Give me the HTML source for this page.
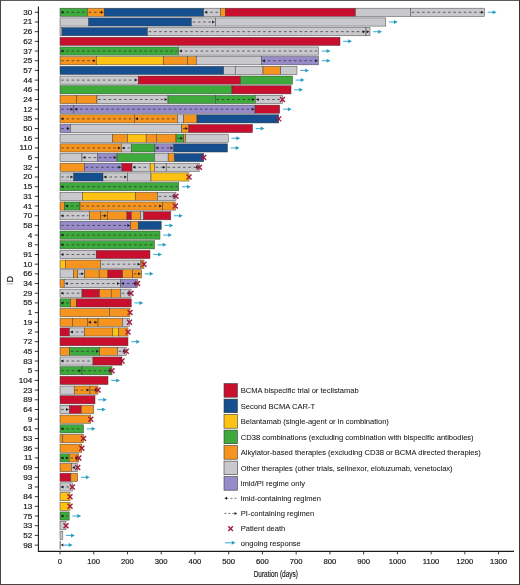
<!DOCTYPE html>
<html><head><meta charset="utf-8"><style>
html,body{margin:0;padding:0;background:#fff;}
body{width:520px;height:585px;overflow:hidden;}
svg{display:block;will-change:transform;}
text{font-family:"Liberation Sans",sans-serif;fill:#151515;stroke:#151515;stroke-width:0.18;}
.yl{font-size:8.1px;text-anchor:end;}
.xl{font-size:7.7px;text-anchor:middle;}
.lt{font-size:7.55px;stroke-width:0.05;}
.b{stroke:#3a3a3a;stroke-width:0.55;stroke-opacity:0.85;}
.lb{stroke:#3a3a3a;stroke-width:0.6;}
.d{stroke:#2a2a2a;stroke-opacity:0.75;stroke-width:0.9;stroke-dasharray:2.6 2.6;}
.h{fill:#1a1a1a;}
.x{stroke:#a3163a;stroke-width:1.35;fill:none;}
.ar{stroke:#4db4d8;stroke-width:1.15;}
.ah{fill:#2c9cc0;}
.tk{stroke:#222;stroke-width:0.9;}
.ax{stroke:#1a1a1a;stroke-width:1.1;fill:none;}
</style></head><body>
<svg width="520" height="585" viewBox="0 0 520 585">
<rect x="0" y="0" width="520" height="1" fill="#5c5c5c"/><rect x="0" y="0" width="1" height="585" fill="#454545"/><rect x="519" y="0" width="1" height="585" fill="#353535"/><rect x="0" y="584" width="520" height="1" fill="#454545"/>
<path d="M38.4,6.5 V551.4 H514" class="ax"/>
<text x="32.3" y="14.8" class="yl">30</text>
<line x1="34.8" y1="12.3" x2="38.4" y2="12.3" class="tk"/>
<text x="32.3" y="24.49" class="yl">21</text>
<line x1="34.8" y1="21.99" x2="38.4" y2="21.99" class="tk"/>
<text x="32.3" y="34.17" class="yl">26</text>
<line x1="34.8" y1="31.67" x2="38.4" y2="31.67" class="tk"/>
<text x="32.3" y="43.86" class="yl">62</text>
<line x1="34.8" y1="41.36" x2="38.4" y2="41.36" class="tk"/>
<text x="32.3" y="53.55" class="yl">37</text>
<line x1="34.8" y1="51.05" x2="38.4" y2="51.05" class="tk"/>
<text x="32.3" y="63.23" class="yl">25</text>
<line x1="34.8" y1="60.73" x2="38.4" y2="60.73" class="tk"/>
<text x="32.3" y="72.92" class="yl">57</text>
<line x1="34.8" y1="70.42" x2="38.4" y2="70.42" class="tk"/>
<text x="32.3" y="82.61" class="yl">44</text>
<line x1="34.8" y1="80.11" x2="38.4" y2="80.11" class="tk"/>
<text x="32.3" y="92.3" class="yl">46</text>
<line x1="34.8" y1="89.8" x2="38.4" y2="89.8" class="tk"/>
<text x="32.3" y="101.98" class="yl">24</text>
<line x1="34.8" y1="99.48" x2="38.4" y2="99.48" class="tk"/>
<text x="32.3" y="111.67" class="yl">12</text>
<line x1="34.8" y1="109.17" x2="38.4" y2="109.17" class="tk"/>
<text x="32.3" y="121.36" class="yl">35</text>
<line x1="34.8" y1="118.86" x2="38.4" y2="118.86" class="tk"/>
<text x="32.3" y="131.04" class="yl">50</text>
<line x1="34.8" y1="128.54" x2="38.4" y2="128.54" class="tk"/>
<text x="32.3" y="140.73" class="yl">16</text>
<line x1="34.8" y1="138.23" x2="38.4" y2="138.23" class="tk"/>
<text x="32.3" y="150.42" class="yl">110</text>
<line x1="34.8" y1="147.92" x2="38.4" y2="147.92" class="tk"/>
<text x="32.3" y="160.1" class="yl">6</text>
<line x1="34.8" y1="157.6" x2="38.4" y2="157.6" class="tk"/>
<text x="32.3" y="169.79" class="yl">32</text>
<line x1="34.8" y1="167.29" x2="38.4" y2="167.29" class="tk"/>
<text x="32.3" y="179.48" class="yl">20</text>
<line x1="34.8" y1="176.98" x2="38.4" y2="176.98" class="tk"/>
<text x="32.3" y="189.17" class="yl">15</text>
<line x1="34.8" y1="186.67" x2="38.4" y2="186.67" class="tk"/>
<text x="32.3" y="198.85" class="yl">31</text>
<line x1="34.8" y1="196.35" x2="38.4" y2="196.35" class="tk"/>
<text x="32.3" y="208.54" class="yl">41</text>
<line x1="34.8" y1="206.04" x2="38.4" y2="206.04" class="tk"/>
<text x="32.3" y="218.23" class="yl">70</text>
<line x1="34.8" y1="215.73" x2="38.4" y2="215.73" class="tk"/>
<text x="32.3" y="227.91" class="yl">58</text>
<line x1="34.8" y1="225.41" x2="38.4" y2="225.41" class="tk"/>
<text x="32.3" y="237.6" class="yl">4</text>
<line x1="34.8" y1="235.1" x2="38.4" y2="235.1" class="tk"/>
<text x="32.3" y="247.29" class="yl">8</text>
<line x1="34.8" y1="244.79" x2="38.4" y2="244.79" class="tk"/>
<text x="32.3" y="256.98" class="yl">91</text>
<line x1="34.8" y1="254.47" x2="38.4" y2="254.47" class="tk"/>
<text x="32.3" y="266.66" class="yl">10</text>
<line x1="34.8" y1="264.16" x2="38.4" y2="264.16" class="tk"/>
<text x="32.3" y="276.35" class="yl">66</text>
<line x1="34.8" y1="273.85" x2="38.4" y2="273.85" class="tk"/>
<text x="32.3" y="286.04" class="yl">34</text>
<line x1="34.8" y1="283.54" x2="38.4" y2="283.54" class="tk"/>
<text x="32.3" y="295.72" class="yl">29</text>
<line x1="34.8" y1="293.22" x2="38.4" y2="293.22" class="tk"/>
<text x="32.3" y="305.41" class="yl">55</text>
<line x1="34.8" y1="302.91" x2="38.4" y2="302.91" class="tk"/>
<text x="32.3" y="315.1" class="yl">1</text>
<line x1="34.8" y1="312.6" x2="38.4" y2="312.6" class="tk"/>
<text x="32.3" y="324.78" class="yl">19</text>
<line x1="34.8" y1="322.28" x2="38.4" y2="322.28" class="tk"/>
<text x="32.3" y="334.47" class="yl">2</text>
<line x1="34.8" y1="331.97" x2="38.4" y2="331.97" class="tk"/>
<text x="32.3" y="344.16" class="yl">72</text>
<line x1="34.8" y1="341.66" x2="38.4" y2="341.66" class="tk"/>
<text x="32.3" y="353.84" class="yl">45</text>
<line x1="34.8" y1="351.34" x2="38.4" y2="351.34" class="tk"/>
<text x="32.3" y="363.53" class="yl">83</text>
<line x1="34.8" y1="361.03" x2="38.4" y2="361.03" class="tk"/>
<text x="32.3" y="373.22" class="yl">5</text>
<line x1="34.8" y1="370.72" x2="38.4" y2="370.72" class="tk"/>
<text x="32.3" y="382.91" class="yl">104</text>
<line x1="34.8" y1="380.41" x2="38.4" y2="380.41" class="tk"/>
<text x="32.3" y="392.59" class="yl">23</text>
<line x1="34.8" y1="390.09" x2="38.4" y2="390.09" class="tk"/>
<text x="32.3" y="402.28" class="yl">89</text>
<line x1="34.8" y1="399.78" x2="38.4" y2="399.78" class="tk"/>
<text x="32.3" y="411.97" class="yl">64</text>
<line x1="34.8" y1="409.47" x2="38.4" y2="409.47" class="tk"/>
<text x="32.3" y="421.65" class="yl">9</text>
<line x1="34.8" y1="419.15" x2="38.4" y2="419.15" class="tk"/>
<text x="32.3" y="431.34" class="yl">61</text>
<line x1="34.8" y1="428.84" x2="38.4" y2="428.84" class="tk"/>
<text x="32.3" y="441.03" class="yl">53</text>
<line x1="34.8" y1="438.53" x2="38.4" y2="438.53" class="tk"/>
<text x="32.3" y="450.71" class="yl">36</text>
<line x1="34.8" y1="448.21" x2="38.4" y2="448.21" class="tk"/>
<text x="32.3" y="460.4" class="yl">11</text>
<line x1="34.8" y1="457.9" x2="38.4" y2="457.9" class="tk"/>
<text x="32.3" y="470.09" class="yl">69</text>
<line x1="34.8" y1="467.59" x2="38.4" y2="467.59" class="tk"/>
<text x="32.3" y="479.78" class="yl">93</text>
<line x1="34.8" y1="477.28" x2="38.4" y2="477.28" class="tk"/>
<text x="32.3" y="489.46" class="yl">3</text>
<line x1="34.8" y1="486.96" x2="38.4" y2="486.96" class="tk"/>
<text x="32.3" y="499.15" class="yl">84</text>
<line x1="34.8" y1="496.65" x2="38.4" y2="496.65" class="tk"/>
<text x="32.3" y="508.84" class="yl">13</text>
<line x1="34.8" y1="506.34" x2="38.4" y2="506.34" class="tk"/>
<text x="32.3" y="518.52" class="yl">75</text>
<line x1="34.8" y1="516.02" x2="38.4" y2="516.02" class="tk"/>
<text x="32.3" y="528.21" class="yl">33</text>
<line x1="34.8" y1="525.71" x2="38.4" y2="525.71" class="tk"/>
<text x="32.3" y="537.9" class="yl">52</text>
<line x1="34.8" y1="535.4" x2="38.4" y2="535.4" class="tk"/>
<text x="32.3" y="547.58" class="yl">98</text>
<line x1="34.8" y1="545.08" x2="38.4" y2="545.08" class="tk"/>
<line x1="60" y1="551.5" x2="60" y2="554.4" class="tk"/>
<text x="60" y="563.9" class="xl">0</text>
<line x1="93.74" y1="551.5" x2="93.74" y2="554.4" class="tk"/>
<text x="93.74" y="563.9" class="xl">100</text>
<line x1="127.48" y1="551.5" x2="127.48" y2="554.4" class="tk"/>
<text x="127.48" y="563.9" class="xl">200</text>
<line x1="161.22" y1="551.5" x2="161.22" y2="554.4" class="tk"/>
<text x="161.22" y="563.9" class="xl">300</text>
<line x1="194.95" y1="551.5" x2="194.95" y2="554.4" class="tk"/>
<text x="194.95" y="563.9" class="xl">400</text>
<line x1="228.69" y1="551.5" x2="228.69" y2="554.4" class="tk"/>
<text x="228.69" y="563.9" class="xl">500</text>
<line x1="262.43" y1="551.5" x2="262.43" y2="554.4" class="tk"/>
<text x="262.43" y="563.9" class="xl">600</text>
<line x1="296.17" y1="551.5" x2="296.17" y2="554.4" class="tk"/>
<text x="296.17" y="563.9" class="xl">700</text>
<line x1="329.91" y1="551.5" x2="329.91" y2="554.4" class="tk"/>
<text x="329.91" y="563.9" class="xl">800</text>
<line x1="363.65" y1="551.5" x2="363.65" y2="554.4" class="tk"/>
<text x="363.65" y="563.9" class="xl">900</text>
<line x1="397.38" y1="551.5" x2="397.38" y2="554.4" class="tk"/>
<text x="397.38" y="563.9" class="xl">1000</text>
<line x1="431.12" y1="551.5" x2="431.12" y2="554.4" class="tk"/>
<text x="431.12" y="563.9" class="xl">1100</text>
<line x1="464.86" y1="551.5" x2="464.86" y2="554.4" class="tk"/>
<text x="464.86" y="563.9" class="xl">1200</text>
<line x1="498.6" y1="551.5" x2="498.6" y2="554.4" class="tk"/>
<text x="498.6" y="563.9" class="xl">1300</text>
<rect x="60" y="8.2" width="27.5" height="8.2" fill="#3eaa3c" class="b"/>
<rect x="87.5" y="8.2" width="16.75" height="8.2" fill="#f5941e" class="b"/>
<rect x="104.25" y="8.2" width="99.5" height="8.2" fill="#154f90" class="b"/>
<rect x="203.75" y="8.2" width="16.75" height="8.2" fill="#c9c8cc" class="b"/>
<rect x="220.5" y="8.2" width="4.8" height="8.2" fill="#f5941e" class="b"/>
<rect x="225.3" y="8.2" width="130.2" height="8.2" fill="#c8102e" class="b"/>
<rect x="355.5" y="8.2" width="55" height="8.2" fill="#c9c8cc" class="b"/>
<rect x="410.5" y="8.2" width="74" height="8.2" fill="#c9c8cc" class="b"/>
<line x1="61.2" y1="12.3" x2="86.3" y2="12.3" class="d"/>
<path d="M60.8,12.3 l2.6,-1.5 v3z" class="h"/>
<line x1="88.7" y1="12.3" x2="103.05" y2="12.3" class="d"/>
<path d="M103.45,12.3 l-2.6,-1.5 v3z" class="h"/>
<line x1="204.95" y1="12.3" x2="219.3" y2="12.3" class="d"/>
<path d="M204.55,12.3 l2.6,-1.5 v3z" class="h"/>
<line x1="411.7" y1="12.3" x2="483.3" y2="12.3" class="d"/>
<path d="M483.7,12.3 l-2.6,-1.5 v3z" class="h"/>
<line x1="487.7" y1="12.3" x2="493.2" y2="12.3" class="ar"/><path d="M496.5,12.3 l-3.8,-2 v4z" class="ah"/>
<rect x="60" y="17.89" width="28.75" height="8.2" fill="#c9c8cc" class="b"/>
<rect x="88.75" y="17.89" width="102.75" height="8.2" fill="#154f90" class="b"/>
<rect x="191.5" y="17.89" width="24" height="8.2" fill="#c9c8cc" class="b"/>
<rect x="215.5" y="17.89" width="170.25" height="8.2" fill="#c9c8cc" class="b"/>
<line x1="192.7" y1="21.99" x2="214.3" y2="21.99" class="d"/>
<path d="M214.7,21.99 l-2.6,-1.5 v3z" class="h"/>
<line x1="388.95" y1="21.99" x2="394.45" y2="21.99" class="ar"/><path d="M397.75,21.99 l-3.8,-2 v4z" class="ah"/>
<rect x="60" y="27.57" width="2" height="8.2" fill="#c9c8cc" class="b"/>
<rect x="62" y="27.57" width="85.5" height="8.2" fill="#154f90" class="b"/>
<rect x="147.5" y="27.57" width="218.5" height="8.2" fill="#c9c8cc" class="b"/>
<rect x="366" y="27.57" width="4" height="8.2" fill="#c9c8cc" class="b"/>
<line x1="148.7" y1="31.67" x2="364.8" y2="31.67" class="d"/>
<path d="M365.2,31.67 l-2.6,-1.5 v3z" class="h"/>
<line x1="367.2" y1="31.67" x2="368.8" y2="31.67" class="d"/>
<path d="M369.2,31.67 l-2.6,-1.5 v3z" class="h"/>
<line x1="373.2" y1="31.67" x2="378.7" y2="31.67" class="ar"/><path d="M382,31.67 l-3.8,-2 v4z" class="ah"/>
<rect x="60" y="37.26" width="280" height="8.2" fill="#c8102e" class="b"/>
<line x1="343.2" y1="41.36" x2="348.7" y2="41.36" class="ar"/><path d="M352,41.36 l-3.8,-2 v4z" class="ah"/>
<rect x="60" y="46.95" width="118.5" height="8.2" fill="#3eaa3c" class="b"/>
<rect x="178.5" y="46.95" width="140" height="8.2" fill="#c9c8cc" class="b"/>
<line x1="61.2" y1="51.05" x2="177.3" y2="51.05" class="d"/>
<path d="M60.8,51.05 l2.6,-1.5 v3z" class="h"/>
<line x1="179.7" y1="51.05" x2="317.3" y2="51.05" class="d"/>
<path d="M179.3,51.05 l2.6,-1.5 v3z" class="h"/>
<line x1="321.7" y1="51.05" x2="327.2" y2="51.05" class="ar"/><path d="M330.5,51.05 l-3.8,-2 v4z" class="ah"/>
<rect x="60" y="56.63" width="36.25" height="8.2" fill="#f5941e" class="b"/>
<rect x="96.25" y="56.63" width="67.25" height="8.2" fill="#fdc214" class="b"/>
<rect x="163.5" y="56.63" width="24" height="8.2" fill="#f5941e" class="b"/>
<rect x="187.5" y="56.63" width="8.75" height="8.2" fill="#f5941e" class="b"/>
<rect x="196.25" y="56.63" width="65.25" height="8.2" fill="#c9c8cc" class="b"/>
<rect x="261.5" y="56.63" width="57" height="8.2" fill="#978bc9" class="b"/>
<line x1="61.2" y1="60.73" x2="95.05" y2="60.73" class="d"/>
<path d="M95.45,60.73 l-2.6,-1.5 v3z" class="h"/>
<line x1="262.7" y1="60.73" x2="317.3" y2="60.73" class="d"/>
<path d="M262.3,60.73 l2.6,-1.5 v3z" class="h"/>
<path d="M317.7,60.73 l-2.6,-1.5 v3z" class="h"/>
<line x1="321.7" y1="60.73" x2="327.2" y2="60.73" class="ar"/><path d="M330.5,60.73 l-3.8,-2 v4z" class="ah"/>
<rect x="60" y="66.32" width="163.75" height="8.2" fill="#154f90" class="b"/>
<rect x="223.75" y="66.32" width="11.5" height="8.2" fill="#c9c8cc" class="b"/>
<rect x="235.25" y="66.32" width="27.75" height="8.2" fill="#c9c8cc" class="b"/>
<rect x="263" y="66.32" width="17.6" height="8.2" fill="#f5941e" class="b"/>
<rect x="280.6" y="66.32" width="16.4" height="8.2" fill="#c9c8cc" class="b"/>
<line x1="300.2" y1="70.42" x2="305.7" y2="70.42" class="ar"/><path d="M309,70.42 l-3.8,-2 v4z" class="ah"/>
<rect x="60" y="76.01" width="78.25" height="8.2" fill="#c9c8cc" class="b"/>
<rect x="138.25" y="76.01" width="102.25" height="8.2" fill="#c8102e" class="b"/>
<rect x="240.5" y="76.01" width="52" height="8.2" fill="#3eaa3c" class="b"/>
<line x1="61.2" y1="80.11" x2="137.05" y2="80.11" class="d"/>
<path d="M137.45,80.11 l-2.6,-1.5 v3z" class="h"/>
<line x1="295.7" y1="80.11" x2="301.2" y2="80.11" class="ar"/><path d="M304.5,80.11 l-3.8,-2 v4z" class="ah"/>
<rect x="60" y="85.7" width="172" height="8.2" fill="#3eaa3c" class="b"/>
<rect x="232" y="85.7" width="59" height="8.2" fill="#c8102e" class="b"/>
<line x1="294.2" y1="89.8" x2="299.7" y2="89.8" class="ar"/><path d="M303,89.8 l-3.8,-2 v4z" class="ah"/>
<rect x="60" y="95.38" width="16.75" height="8.2" fill="#f5941e" class="b"/>
<rect x="76.75" y="95.38" width="20.25" height="8.2" fill="#f5941e" class="b"/>
<rect x="97" y="95.38" width="71" height="8.2" fill="#c9c8cc" class="b"/>
<rect x="168" y="95.38" width="47.3" height="8.2" fill="#3eaa3c" class="b"/>
<rect x="215.3" y="95.38" width="40" height="8.2" fill="#3eaa3c" class="b"/>
<rect x="255.3" y="95.38" width="27.2" height="8.2" fill="#c9c8cc" class="b"/>
<line x1="98.2" y1="99.48" x2="166.8" y2="99.48" class="d"/>
<path d="M167.2,99.48 l-2.6,-1.5 v3z" class="h"/>
<line x1="216.5" y1="99.48" x2="254.1" y2="99.48" class="d"/>
<path d="M254.5,99.48 l-2.6,-1.5 v3z" class="h"/>
<line x1="256.5" y1="99.48" x2="281.3" y2="99.48" class="d"/>
<path d="M256.1,99.48 l2.6,-1.5 v3z" class="h"/>
<path d="M280,96.98 l5,5 M280,101.98 l5,-5" class="x"/>
<rect x="60" y="105.07" width="13.8" height="8.2" fill="#978bc9" class="b"/>
<rect x="73.8" y="105.07" width="181.2" height="8.2" fill="#978bc9" class="b"/>
<rect x="255" y="105.07" width="24.7" height="8.2" fill="#c8102e" class="b"/>
<line x1="61.2" y1="109.17" x2="72.6" y2="109.17" class="d"/>
<path d="M73,109.17 l-2.6,-1.5 v3z" class="h"/>
<line x1="75" y1="109.17" x2="253.8" y2="109.17" class="d"/>
<path d="M74.6,109.17 l2.6,-1.5 v3z" class="h"/>
<path d="M254.2,109.17 l-2.6,-1.5 v3z" class="h"/>
<line x1="282.9" y1="109.17" x2="288.4" y2="109.17" class="ar"/><path d="M291.7,109.17 l-3.8,-2 v4z" class="ah"/>
<rect x="60" y="114.76" width="74.5" height="8.2" fill="#f5941e" class="b"/>
<rect x="134.5" y="114.76" width="43" height="8.2" fill="#f5941e" class="b"/>
<rect x="177.5" y="114.76" width="6.25" height="8.2" fill="#c9c8cc" class="b"/>
<rect x="183.75" y="114.76" width="13.25" height="8.2" fill="#f5941e" class="b"/>
<rect x="197" y="114.76" width="81.75" height="8.2" fill="#154f90" class="b"/>
<line x1="61.2" y1="118.86" x2="133.3" y2="118.86" class="d"/>
<path d="M60.8,118.86 l2.6,-1.5 v3z" class="h"/>
<line x1="135.7" y1="118.86" x2="176.3" y2="118.86" class="d"/>
<path d="M135.3,118.86 l2.6,-1.5 v3z" class="h"/>
<path d="M276.25,116.36 l5,5 M276.25,121.36 l5,-5" class="x"/>
<rect x="60" y="124.44" width="10.4" height="8.2" fill="#978bc9" class="b"/>
<rect x="70.4" y="124.44" width="111.3" height="8.2" fill="#c9c8cc" class="b"/>
<rect x="181.7" y="124.44" width="7.1" height="8.2" fill="#f5941e" class="b"/>
<rect x="188.8" y="124.44" width="63.7" height="8.2" fill="#c8102e" class="b"/>
<line x1="61.2" y1="128.54" x2="69.2" y2="128.54" class="d"/>
<path d="M69.6,128.54 l-2.6,-1.5 v3z" class="h"/>
<line x1="182.9" y1="128.54" x2="187.6" y2="128.54" class="d"/>
<path d="M188,128.54 l-2.6,-1.5 v3z" class="h"/>
<line x1="255.7" y1="128.54" x2="261.2" y2="128.54" class="ar"/><path d="M264.5,128.54 l-3.8,-2 v4z" class="ah"/>
<rect x="60" y="134.13" width="52.5" height="8.2" fill="#c9c8cc" class="b"/>
<rect x="112.5" y="134.13" width="15" height="8.2" fill="#f5941e" class="b"/>
<rect x="127.5" y="134.13" width="18.7" height="8.2" fill="#fdc214" class="b"/>
<rect x="146.2" y="134.13" width="10.1" height="8.2" fill="#f5941e" class="b"/>
<rect x="156.3" y="134.13" width="19.7" height="8.2" fill="#f5941e" class="b"/>
<rect x="176" y="134.13" width="7.7" height="8.2" fill="#3eaa3c" class="b"/>
<rect x="183.7" y="134.13" width="1.9" height="8.2" fill="#f5941e" class="b"/>
<rect x="185.6" y="134.13" width="42.65" height="8.2" fill="#c9c8cc" class="b"/>
<line x1="177.2" y1="138.23" x2="182.5" y2="138.23" class="d"/>
<path d="M182.9,138.23 l-2.6,-1.5 v3z" class="h"/>
<line x1="231.45" y1="138.23" x2="236.95" y2="138.23" class="ar"/><path d="M240.25,138.23 l-3.8,-2 v4z" class="ah"/>
<rect x="60" y="143.82" width="61.25" height="8.2" fill="#f5941e" class="b"/>
<rect x="121.25" y="143.82" width="10" height="8.2" fill="#c9c8cc" class="b"/>
<rect x="131.25" y="143.82" width="23.75" height="8.2" fill="#3eaa3c" class="b"/>
<rect x="155" y="143.82" width="18.75" height="8.2" fill="#978bc9" class="b"/>
<rect x="173.75" y="143.82" width="53.75" height="8.2" fill="#154f90" class="b"/>
<line x1="61.2" y1="147.92" x2="120.05" y2="147.92" class="d"/>
<path d="M120.45,147.92 l-2.6,-1.5 v3z" class="h"/>
<line x1="122.45" y1="147.92" x2="130.05" y2="147.92" class="d"/>
<path d="M122.05,147.92 l2.6,-1.5 v3z" class="h"/>
<line x1="156.2" y1="147.92" x2="172.55" y2="147.92" class="d"/>
<path d="M155.8,147.92 l2.6,-1.5 v3z" class="h"/>
<path d="M172.95,147.92 l-2.6,-1.5 v3z" class="h"/>
<line x1="230.7" y1="147.92" x2="236.2" y2="147.92" class="ar"/><path d="M239.5,147.92 l-3.8,-2 v4z" class="ah"/>
<rect x="60" y="153.5" width="22" height="8.2" fill="#c9c8cc" class="b"/>
<rect x="82" y="153.5" width="15.5" height="8.2" fill="#c9c8cc" class="b"/>
<rect x="97.5" y="153.5" width="19.5" height="8.2" fill="#978bc9" class="b"/>
<rect x="117" y="153.5" width="37.5" height="8.2" fill="#3eaa3c" class="b"/>
<rect x="154.5" y="153.5" width="13.7" height="8.2" fill="#c9c8cc" class="b"/>
<rect x="168.2" y="153.5" width="6.05" height="8.2" fill="#f5941e" class="b"/>
<rect x="174.25" y="153.5" width="29.5" height="8.2" fill="#154f90" class="b"/>
<line x1="83.2" y1="157.6" x2="96.3" y2="157.6" class="d"/>
<path d="M82.8,157.6 l2.6,-1.5 v3z" class="h"/>
<line x1="98.7" y1="157.6" x2="115.8" y2="157.6" class="d"/>
<path d="M116.2,157.6 l-2.6,-1.5 v3z" class="h"/>
<path d="M201.25,155.1 l5,5 M201.25,160.1 l5,-5" class="x"/>
<rect x="60" y="163.19" width="24.3" height="8.2" fill="#f5941e" class="b"/>
<rect x="84.3" y="163.19" width="37.7" height="8.2" fill="#978bc9" class="b"/>
<rect x="122" y="163.19" width="10" height="8.2" fill="#c8102e" class="b"/>
<rect x="132" y="163.19" width="18.2" height="8.2" fill="#c9c8cc" class="b"/>
<rect x="150.2" y="163.19" width="4.3" height="8.2" fill="#fdc214" class="b"/>
<rect x="154.5" y="163.19" width="11.7" height="8.2" fill="#c9c8cc" class="b"/>
<rect x="166.2" y="163.19" width="33.2" height="8.2" fill="#c9c8cc" class="b"/>
<line x1="85.5" y1="167.29" x2="120.8" y2="167.29" class="d"/>
<path d="M121.2,167.29 l-2.6,-1.5 v3z" class="h"/>
<line x1="133.2" y1="167.29" x2="149" y2="167.29" class="d"/>
<path d="M132.8,167.29 l2.6,-1.5 v3z" class="h"/>
<line x1="155.7" y1="167.29" x2="165" y2="167.29" class="d"/>
<path d="M165.4,167.29 l-2.6,-1.5 v3z" class="h"/>
<line x1="167.4" y1="167.29" x2="198.2" y2="167.29" class="d"/>
<path d="M198.6,167.29 l-2.6,-1.5 v3z" class="h"/>
<path d="M196.9,164.79 l5,5 M196.9,169.79 l5,-5" class="x"/>
<rect x="60" y="172.88" width="13.75" height="8.2" fill="#c9c8cc" class="b"/>
<rect x="73.75" y="172.88" width="29.25" height="8.2" fill="#154f90" class="b"/>
<rect x="103" y="172.88" width="24.5" height="8.2" fill="#c9c8cc" class="b"/>
<rect x="127.5" y="172.88" width="23.5" height="8.2" fill="#c9c8cc" class="b"/>
<rect x="151" y="172.88" width="38" height="8.2" fill="#fdc214" class="b"/>
<line x1="61.2" y1="176.98" x2="72.55" y2="176.98" class="d"/>
<path d="M72.95,176.98 l-2.6,-1.5 v3z" class="h"/>
<line x1="104.2" y1="176.98" x2="126.3" y2="176.98" class="d"/>
<path d="M103.8,176.98 l2.6,-1.5 v3z" class="h"/>
<path d="M126.7,176.98 l-2.6,-1.5 v3z" class="h"/>
<path d="M186.5,174.48 l5,5 M186.5,179.48 l5,-5" class="x"/>
<rect x="60" y="182.57" width="118.75" height="8.2" fill="#3eaa3c" class="b"/>
<line x1="61.2" y1="186.67" x2="177.55" y2="186.67" class="d"/>
<path d="M60.8,186.67 l2.6,-1.5 v3z" class="h"/>
<line x1="181.95" y1="186.67" x2="187.45" y2="186.67" class="ar"/><path d="M190.75,186.67 l-3.8,-2 v4z" class="ah"/>
<rect x="60" y="192.25" width="22.5" height="8.2" fill="#c9c8cc" class="b"/>
<rect x="82.5" y="192.25" width="53" height="8.2" fill="#fdc214" class="b"/>
<rect x="135.5" y="192.25" width="22" height="8.2" fill="#f5941e" class="b"/>
<rect x="157.5" y="192.25" width="18.5" height="8.2" fill="#c9c8cc" class="b"/>
<line x1="158.7" y1="196.35" x2="174.8" y2="196.35" class="d"/>
<path d="M175.2,196.35 l-2.6,-1.5 v3z" class="h"/>
<path d="M173.5,193.85 l5,5 M173.5,198.85 l5,-5" class="x"/>
<rect x="60" y="201.94" width="4.5" height="8.2" fill="#f5941e" class="b"/>
<rect x="64.5" y="201.94" width="15.5" height="8.2" fill="#3eaa3c" class="b"/>
<rect x="80" y="201.94" width="82.5" height="8.2" fill="#f5941e" class="b"/>
<rect x="162.5" y="201.94" width="12.8" height="8.2" fill="#f5941e" class="b"/>
<line x1="65.7" y1="206.04" x2="78.8" y2="206.04" class="d"/>
<path d="M65.3,206.04 l2.6,-1.5 v3z" class="h"/>
<line x1="81.2" y1="206.04" x2="161.3" y2="206.04" class="d"/>
<path d="M161.7,206.04 l-2.6,-1.5 v3z" class="h"/>
<path d="M172.8,203.54 l5,5 M172.8,208.54 l5,-5" class="x"/>
<rect x="60" y="211.63" width="29.5" height="8.2" fill="#c9c8cc" class="b"/>
<rect x="89.5" y="211.63" width="11" height="8.2" fill="#f5941e" class="b"/>
<rect x="100.5" y="211.63" width="7" height="8.2" fill="#f5941e" class="b"/>
<rect x="107.5" y="211.63" width="19.5" height="8.2" fill="#f5941e" class="b"/>
<rect x="127" y="211.63" width="4.25" height="8.2" fill="#c8102e" class="b"/>
<rect x="131.25" y="211.63" width="9.25" height="8.2" fill="#f5941e" class="b"/>
<rect x="140.5" y="211.63" width="3.25" height="8.2" fill="#c9c8cc" class="b"/>
<rect x="143.75" y="211.63" width="27" height="8.2" fill="#c8102e" class="b"/>
<line x1="61.2" y1="215.73" x2="88.3" y2="215.73" class="d"/>
<path d="M60.8,215.73 l2.6,-1.5 v3z" class="h"/>
<line x1="101.7" y1="215.73" x2="106.3" y2="215.73" class="d"/>
<path d="M106.7,215.73 l-2.6,-1.5 v3z" class="h"/>
<line x1="173.95" y1="215.73" x2="179.45" y2="215.73" class="ar"/><path d="M182.75,215.73 l-3.8,-2 v4z" class="ah"/>
<rect x="60" y="221.31" width="70.75" height="8.2" fill="#978bc9" class="b"/>
<rect x="130.75" y="221.31" width="7.5" height="8.2" fill="#f5941e" class="b"/>
<rect x="138.25" y="221.31" width="23" height="8.2" fill="#154f90" class="b"/>
<line x1="61.2" y1="225.41" x2="129.55" y2="225.41" class="d"/>
<path d="M129.95,225.41 l-2.6,-1.5 v3z" class="h"/>
<line x1="164.45" y1="225.41" x2="169.95" y2="225.41" class="ar"/><path d="M173.25,225.41 l-3.8,-2 v4z" class="ah"/>
<rect x="60" y="231" width="100" height="8.2" fill="#3eaa3c" class="b"/>
<line x1="61.2" y1="235.1" x2="158.8" y2="235.1" class="d"/>
<path d="M60.8,235.1 l2.6,-1.5 v3z" class="h"/>
<line x1="163.2" y1="235.1" x2="168.7" y2="235.1" class="ar"/><path d="M172,235.1 l-3.8,-2 v4z" class="ah"/>
<rect x="60" y="240.69" width="94.5" height="8.2" fill="#3eaa3c" class="b"/>
<line x1="61.2" y1="244.79" x2="153.3" y2="244.79" class="d"/>
<path d="M60.8,244.79 l2.6,-1.5 v3z" class="h"/>
<line x1="157.7" y1="244.79" x2="163.2" y2="244.79" class="ar"/><path d="M166.5,244.79 l-3.8,-2 v4z" class="ah"/>
<rect x="60" y="250.38" width="36.25" height="8.2" fill="#c9c8cc" class="b"/>
<rect x="96.25" y="250.38" width="53.75" height="8.2" fill="#c8102e" class="b"/>
<line x1="61.2" y1="254.47" x2="95.05" y2="254.47" class="d"/>
<path d="M60.8,254.47 l2.6,-1.5 v3z" class="h"/>
<line x1="153.2" y1="254.47" x2="158.7" y2="254.47" class="ar"/><path d="M162,254.47 l-3.8,-2 v4z" class="ah"/>
<rect x="60" y="260.06" width="5.3" height="8.2" fill="#fdc214" class="b"/>
<rect x="65.3" y="260.06" width="35.3" height="8.2" fill="#f5941e" class="b"/>
<rect x="100.6" y="260.06" width="40.3" height="8.2" fill="#c9c8cc" class="b"/>
<rect x="140.9" y="260.06" width="3.1" height="8.2" fill="#f5941e" class="b"/>
<line x1="101.8" y1="264.16" x2="139.7" y2="264.16" class="d"/>
<path d="M140.1,264.16 l-2.6,-1.5 v3z" class="h"/>
<path d="M141.5,261.66 l5,5 M141.5,266.66 l5,-5" class="x"/>
<rect x="60" y="269.75" width="13.6" height="8.2" fill="#c9c8cc" class="b"/>
<rect x="73.6" y="269.75" width="4.2" height="8.2" fill="#f5941e" class="b"/>
<rect x="77.8" y="269.75" width="6.9" height="8.2" fill="#c9c8cc" class="b"/>
<rect x="84.7" y="269.75" width="14.5" height="8.2" fill="#f5941e" class="b"/>
<rect x="99.2" y="269.75" width="8.7" height="8.2" fill="#f5941e" class="b"/>
<rect x="107.9" y="269.75" width="14.7" height="8.2" fill="#c8102e" class="b"/>
<rect x="122.6" y="269.75" width="10.1" height="8.2" fill="#f5941e" class="b"/>
<rect x="132.7" y="269.75" width="8.8" height="8.2" fill="#f5941e" class="b"/>
<line x1="79" y1="273.85" x2="83.5" y2="273.85" class="d"/>
<path d="M83.9,273.85 l-2.6,-1.5 v3z" class="h"/>
<line x1="133.9" y1="273.85" x2="140.3" y2="273.85" class="d"/>
<path d="M140.7,273.85 l-2.6,-1.5 v3z" class="h"/>
<line x1="144.7" y1="273.85" x2="150.2" y2="273.85" class="ar"/><path d="M153.5,273.85 l-3.8,-2 v4z" class="ah"/>
<rect x="60" y="279.44" width="4.2" height="8.2" fill="#f5941e" class="b"/>
<rect x="64.2" y="279.44" width="56.3" height="8.2" fill="#c9c8cc" class="b"/>
<rect x="120.5" y="279.44" width="17" height="8.2" fill="#978bc9" class="b"/>
<line x1="65.4" y1="283.54" x2="119.3" y2="283.54" class="d"/>
<path d="M65,283.54 l2.6,-1.5 v3z" class="h"/>
<path d="M119.7,283.54 l-2.6,-1.5 v3z" class="h"/>
<line x1="121.7" y1="283.54" x2="136.3" y2="283.54" class="d"/>
<path d="M121.3,283.54 l2.6,-1.5 v3z" class="h"/>
<path d="M136.7,283.54 l-2.6,-1.5 v3z" class="h"/>
<path d="M135,281.04 l5,5 M135,286.04 l5,-5" class="x"/>
<rect x="60" y="289.12" width="22" height="8.2" fill="#c9c8cc" class="b"/>
<rect x="82" y="289.12" width="17.5" height="8.2" fill="#c8102e" class="b"/>
<rect x="99.5" y="289.12" width="11.75" height="8.2" fill="#f5941e" class="b"/>
<rect x="111.25" y="289.12" width="9.25" height="8.2" fill="#f5941e" class="b"/>
<rect x="120.5" y="289.12" width="10.5" height="8.2" fill="#c9c8cc" class="b"/>
<line x1="61.2" y1="293.22" x2="80.8" y2="293.22" class="d"/>
<path d="M60.8,293.22 l2.6,-1.5 v3z" class="h"/>
<line x1="121.7" y1="293.22" x2="129.8" y2="293.22" class="d"/>
<path d="M130.2,293.22 l-2.6,-1.5 v3z" class="h"/>
<path d="M128.5,290.72 l5,5 M128.5,295.72 l5,-5" class="x"/>
<rect x="60" y="298.81" width="10.5" height="8.2" fill="#3eaa3c" class="b"/>
<rect x="70.5" y="298.81" width="5.75" height="8.2" fill="#f5941e" class="b"/>
<rect x="76.25" y="298.81" width="55" height="8.2" fill="#c8102e" class="b"/>
<line x1="61.2" y1="302.91" x2="69.3" y2="302.91" class="d"/>
<path d="M60.8,302.91 l2.6,-1.5 v3z" class="h"/>
<line x1="134.45" y1="302.91" x2="139.95" y2="302.91" class="ar"/><path d="M143.25,302.91 l-3.8,-2 v4z" class="ah"/>
<rect x="60" y="308.5" width="49.5" height="8.2" fill="#f5941e" class="b"/>
<rect x="109.5" y="308.5" width="20.5" height="8.2" fill="#f5941e" class="b"/>
<path d="M127.5,310.1 l5,5 M127.5,315.1 l5,-5" class="x"/>
<rect x="60" y="318.18" width="12.5" height="8.2" fill="#f5941e" class="b"/>
<rect x="72.5" y="318.18" width="15" height="8.2" fill="#f5941e" class="b"/>
<rect x="87.5" y="318.18" width="10.5" height="8.2" fill="#f5941e" class="b"/>
<rect x="98" y="318.18" width="24.5" height="8.2" fill="#f5941e" class="b"/>
<rect x="122.5" y="318.18" width="7" height="8.2" fill="#c9c8cc" class="b"/>
<line x1="88.7" y1="322.28" x2="96.8" y2="322.28" class="d"/>
<path d="M88.3,322.28 l2.6,-1.5 v3z" class="h"/>
<path d="M97.2,322.28 l-2.6,-1.5 v3z" class="h"/>
<path d="M127,319.78 l5,5 M127,324.78 l5,-5" class="x"/>
<rect x="60" y="327.87" width="9.5" height="8.2" fill="#c8102e" class="b"/>
<rect x="69.5" y="327.87" width="15" height="8.2" fill="#c9c8cc" class="b"/>
<rect x="84.5" y="327.87" width="28" height="8.2" fill="#f5941e" class="b"/>
<rect x="112.5" y="327.87" width="6.25" height="8.2" fill="#fdc214" class="b"/>
<rect x="118.75" y="327.87" width="9.25" height="8.2" fill="#f5941e" class="b"/>
<line x1="70.7" y1="331.97" x2="83.3" y2="331.97" class="d"/>
<path d="M70.3,331.97 l2.6,-1.5 v3z" class="h"/>
<path d="M125.5,329.47 l5,5 M125.5,334.47 l5,-5" class="x"/>
<rect x="60" y="337.56" width="68" height="8.2" fill="#c8102e" class="b"/>
<line x1="131.2" y1="341.66" x2="136.7" y2="341.66" class="ar"/><path d="M140,341.66 l-3.8,-2 v4z" class="ah"/>
<rect x="60" y="347.24" width="9.5" height="8.2" fill="#f5941e" class="b"/>
<rect x="69.5" y="347.24" width="30" height="8.2" fill="#3eaa3c" class="b"/>
<rect x="99.5" y="347.24" width="18" height="8.2" fill="#f5941e" class="b"/>
<rect x="117.5" y="347.24" width="8.75" height="8.2" fill="#c9c8cc" class="b"/>
<line x1="70.7" y1="351.34" x2="98.3" y2="351.34" class="d"/>
<path d="M98.7,351.34 l-2.6,-1.5 v3z" class="h"/>
<line x1="118.7" y1="351.34" x2="125.05" y2="351.34" class="d"/>
<path d="M125.45,351.34 l-2.6,-1.5 v3z" class="h"/>
<path d="M123.75,348.84 l5,5 M123.75,353.84 l5,-5" class="x"/>
<rect x="60" y="356.93" width="33" height="8.2" fill="#c9c8cc" class="b"/>
<rect x="93" y="356.93" width="29" height="8.2" fill="#c8102e" class="b"/>
<line x1="61.2" y1="361.03" x2="91.8" y2="361.03" class="d"/>
<path d="M60.8,361.03 l2.6,-1.5 v3z" class="h"/>
<path d="M119.5,358.53 l5,5 M119.5,363.53 l5,-5" class="x"/>
<rect x="60" y="366.62" width="22" height="8.2" fill="#3eaa3c" class="b"/>
<rect x="82" y="366.62" width="30" height="8.2" fill="#3eaa3c" class="b"/>
<line x1="61.2" y1="370.72" x2="80.8" y2="370.72" class="d"/>
<path d="M81.2,370.72 l-2.6,-1.5 v3z" class="h"/>
<line x1="83.2" y1="370.72" x2="110.8" y2="370.72" class="d"/>
<path d="M111.2,370.72 l-2.6,-1.5 v3z" class="h"/>
<path d="M109.5,368.22 l5,5 M109.5,373.22 l5,-5" class="x"/>
<rect x="60" y="376.31" width="48" height="8.2" fill="#c8102e" class="b"/>
<line x1="111.2" y1="380.41" x2="116.7" y2="380.41" class="ar"/><path d="M120,380.41 l-3.8,-2 v4z" class="ah"/>
<rect x="60" y="385.99" width="14.25" height="8.2" fill="#c9c8cc" class="b"/>
<rect x="74.25" y="385.99" width="15.75" height="8.2" fill="#f5941e" class="b"/>
<rect x="90" y="385.99" width="8" height="8.2" fill="#f5941e" class="b"/>
<line x1="75.45" y1="390.09" x2="88.8" y2="390.09" class="d"/>
<path d="M89.2,390.09 l-2.6,-1.5 v3z" class="h"/>
<line x1="91.2" y1="390.09" x2="96.8" y2="390.09" class="d"/>
<path d="M97.2,390.09 l-2.6,-1.5 v3z" class="h"/>
<path d="M95.5,387.59 l5,5 M95.5,392.59 l5,-5" class="x"/>
<rect x="60" y="395.68" width="35" height="8.2" fill="#c8102e" class="b"/>
<line x1="98.2" y1="399.78" x2="103.7" y2="399.78" class="ar"/><path d="M107,399.78 l-3.8,-2 v4z" class="ah"/>
<rect x="60" y="405.37" width="9.5" height="8.2" fill="#c9c8cc" class="b"/>
<rect x="69.5" y="405.37" width="11.75" height="8.2" fill="#c8102e" class="b"/>
<rect x="81.25" y="405.37" width="12.5" height="8.2" fill="#f5941e" class="b"/>
<line x1="61.2" y1="409.47" x2="68.3" y2="409.47" class="d"/>
<path d="M68.7,409.47 l-2.6,-1.5 v3z" class="h"/>
<line x1="96.95" y1="409.47" x2="102.45" y2="409.47" class="ar"/><path d="M105.75,409.47 l-3.8,-2 v4z" class="ah"/>
<rect x="60" y="415.05" width="30.8" height="8.2" fill="#f5941e" class="b"/>
<path d="M88.3,416.65 l5,5 M88.3,421.65 l5,-5" class="x"/>
<rect x="60" y="424.74" width="23.5" height="8.2" fill="#3eaa3c" class="b"/>
<line x1="61.2" y1="428.84" x2="82.3" y2="428.84" class="d"/>
<path d="M60.8,428.84 l2.6,-1.5 v3z" class="h"/>
<line x1="86.7" y1="428.84" x2="92.2" y2="428.84" class="ar"/><path d="M95.5,428.84 l-3.8,-2 v4z" class="ah"/>
<rect x="60" y="434.43" width="2.8" height="8.2" fill="#f5941e" class="b"/>
<rect x="62.8" y="434.43" width="20.7" height="8.2" fill="#f5941e" class="b"/>
<path d="M81,436.03 l5,5 M81,441.03 l5,-5" class="x"/>
<rect x="60" y="444.11" width="21.8" height="8.2" fill="#f5941e" class="b"/>
<path d="M79.3,445.71 l5,5 M79.3,450.71 l5,-5" class="x"/>
<rect x="60" y="453.8" width="9.2" height="8.2" fill="#3eaa3c" class="b"/>
<rect x="69.2" y="453.8" width="9.6" height="8.2" fill="#f5941e" class="b"/>
<line x1="61.2" y1="457.9" x2="68" y2="457.9" class="d"/>
<path d="M60.8,457.9 l2.6,-1.5 v3z" class="h"/>
<path d="M68.4,457.9 l-2.6,-1.5 v3z" class="h"/>
<line x1="70.4" y1="457.9" x2="77.6" y2="457.9" class="d"/>
<path d="M78,457.9 l-2.6,-1.5 v3z" class="h"/>
<path d="M76.3,455.4 l5,5 M76.3,460.4 l5,-5" class="x"/>
<rect x="60" y="463.49" width="11.5" height="8.2" fill="#f5941e" class="b"/>
<rect x="71.5" y="463.49" width="6.2" height="8.2" fill="#c9c8cc" class="b"/>
<line x1="72.7" y1="467.59" x2="76.5" y2="467.59" class="d"/>
<path d="M72.3,467.59 l2.6,-1.5 v3z" class="h"/>
<path d="M75.2,465.09 l5,5 M75.2,470.09 l5,-5" class="x"/>
<rect x="60" y="473.18" width="10.8" height="8.2" fill="#c8102e" class="b"/>
<rect x="70.8" y="473.18" width="6.9" height="8.2" fill="#f5941e" class="b"/>
<line x1="80.9" y1="477.28" x2="86.4" y2="477.28" class="ar"/><path d="M89.7,477.28 l-3.8,-2 v4z" class="ah"/>
<rect x="60" y="482.86" width="12.3" height="8.2" fill="#c9c8cc" class="b"/>
<line x1="61.2" y1="486.96" x2="71.1" y2="486.96" class="d"/>
<path d="M60.8,486.96 l2.6,-1.5 v3z" class="h"/>
<path d="M69.8,484.46 l5,5 M69.8,489.46 l5,-5" class="x"/>
<rect x="60" y="492.55" width="10" height="8.2" fill="#fdc214" class="b"/>
<path d="M67.5,494.15 l5,5 M67.5,499.15 l5,-5" class="x"/>
<rect x="60" y="502.24" width="10" height="8.2" fill="#fdc214" class="b"/>
<path d="M67.5,503.84 l5,5 M67.5,508.84 l5,-5" class="x"/>
<rect x="60" y="511.92" width="9.2" height="8.2" fill="#3eaa3c" class="b"/>
<line x1="61.2" y1="516.02" x2="68" y2="516.02" class="d"/>
<path d="M60.8,516.02 l2.6,-1.5 v3z" class="h"/>
<line x1="72.4" y1="516.02" x2="77.9" y2="516.02" class="ar"/><path d="M81.2,516.02 l-3.8,-2 v4z" class="ah"/>
<rect x="60" y="521.61" width="6" height="8.2" fill="#c9c8cc" class="b"/>
<path d="M63.5,523.21 l5,5 M63.5,528.21 l5,-5" class="x"/>
<rect x="60" y="531.3" width="2.8" height="8.2" fill="#c9c8cc" class="b"/>
<line x1="66" y1="535.4" x2="71.5" y2="535.4" class="ar"/><path d="M74.8,535.4 l-3.8,-2 v4z" class="ah"/>
<rect x="60" y="540.98" width="0.6" height="8.2" fill="#c9c8cc" class="b"/>
<path d="M60.8,545.08 l2.6,-1.5 v3z" class="h"/>
<line x1="63.8" y1="545.08" x2="69.3" y2="545.08" class="ar"/><path d="M72.6,545.08 l-3.8,-2 v4z" class="ah"/>
<rect x="224" y="383.6" width="13.4" height="13.6" fill="#c8102e" class="lb"/>
<text x="240.8" y="393.2" class="lt">BCMA bispecific trial or teclistamab</text>
<rect x="224" y="399.1" width="13.4" height="13.6" fill="#154f90" class="lb"/>
<text x="240.8" y="408.7" class="lt">Second BCMA CAR-T</text>
<rect x="224" y="414.6" width="13.4" height="13.6" fill="#fdc214" class="lb"/>
<text x="240.8" y="424.2" class="lt">Belantamab (single-agent or in combination)</text>
<rect x="224" y="430.1" width="13.4" height="13.6" fill="#3eaa3c" class="lb"/>
<text x="240.8" y="439.7" class="lt">CD38 combinations (excluding combination with bispecific antibodies)</text>
<rect x="224" y="445.6" width="13.4" height="13.6" fill="#f5941e" class="lb"/>
<text x="240.8" y="455.2" class="lt">Alkylator-based therapies (excluding CD38 or BCMA directed therapies)</text>
<rect x="224" y="461.1" width="13.4" height="13.6" fill="#c9c8cc" class="lb"/>
<text x="240.8" y="470.7" class="lt">Other therapies (other trials, selinexor, elotuzumab, venetoclax)</text>
<rect x="224" y="476.6" width="13.4" height="13.6" fill="#978bc9" class="lb"/>
<text x="240.8" y="486.2" class="lt">imid/PI regime only</text>
<line x1="226.5" y1="498.3" x2="238" y2="498.3" class="d" style="stroke-dasharray:2 2"/><path d="M224.4,498.3 l2.6,-1.5 v3z" class="h"/>
<text x="240.8" y="501" class="lt">imid-containing regimen</text>
<line x1="224.4" y1="513.4" x2="235" y2="513.4" class="d" style="stroke-dasharray:2 2"/><path d="M237.2,513.4 l-2.6,-1.5 v3z" class="h"/>
<text x="240.8" y="516.1" class="lt">PI-containing regimen</text>
<path d="M228.3,526.3 l4.6,4.6 M228.3,530.9 l4.6,-4.6" class="x"/>
<text x="240.8" y="531.3" class="lt">Patient death</text>
<line x1="225" y1="542.8" x2="231.5" y2="542.8" class="ar"/><path d="M235.5,542.8 l-3.8,-2 v4z" class="ah"/>
<text x="240.8" y="545.5" class="lt">ongoing response</text>
<text x="0" y="0" transform="translate(13,280.5) rotate(-90)" style="font-size:9px;text-anchor:middle"><tspan style="fill:#bbb;stroke:#bbb">I</tspan>D</text>
<text x="0" y="0" transform="translate(275.8,577.2) scale(0.755,1)" style="font-size:8.6px;text-anchor:middle">Duration (days)</text>
</svg>
</body></html>
